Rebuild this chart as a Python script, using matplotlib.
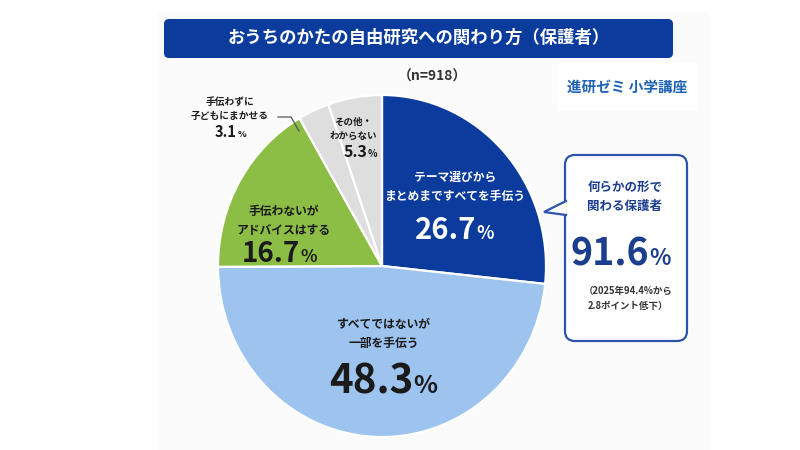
import matplotlib
matplotlib.use("Agg")
import matplotlib.pyplot as plt
from matplotlib.patches import FancyBboxPatch, Rectangle, Polygon

plt.rcParams['font.family'] = ['Noto Sans CJK JP', 'DejaVu Sans']

# ---- data ----
title = "おうちのかたの自由研究への関わり方（保護者）"
n_label = "（n=918）"
logo = "進研ゼミ 小学講座"
categories = ["テーマ選びから\nまとめまですべてを手伝う",
              "すべてではないが\n一部を手伝う",
              "手伝わないが\nアドバイスはする",
              "手伝わずに\n子どもにまかせる",
              "その他・\nわからない"]
values = [26.7, 48.3, 16.7, 3.1, 5.3]
colors = ["#0b3c9d", "#9dc3ef", "#8cbd45", "#dedede", "#dedede"]
total_label = "何らかの形で\n関わる保護者"
total_value = 91.6
total_note = "（2025年94.4%から\n2.8ポイント低下）"

fig = plt.figure(figsize=(8, 4.5), dpi=100)
fig.patch.set_facecolor("white")

# background layer in pixel coords
bg = fig.add_axes([0, 0, 1, 1], zorder=0)
bg.set_xlim(0, 800); bg.set_ylim(450, 0); bg.axis("off")
bg.add_patch(Rectangle((157, 12), 553, 440, facecolor="#fbfbfb", edgecolor="none"))
bg.add_patch(Rectangle((557, 63), 140, 48, facecolor="white", edgecolor="none"))
bg.add_patch(FancyBboxPatch((164, 19), 509, 39, boxstyle="round,pad=0,rounding_size=5",
                            facecolor="#0b3c9d", edgecolor="none"))
# callout box
bg.add_patch(FancyBboxPatch((565, 155), 122, 186, boxstyle="round,pad=0,rounding_size=10",
                            facecolor="white", edgecolor="#2b54ae", linewidth=1.6))
bg.add_patch(Polygon([(566, 201), (544, 212), (566, 215)], closed=True,
                     facecolor="white", edgecolor="none", zorder=3))
bg.plot([566, 544, 566], [201, 212, 215], color="#2b54ae", lw=1.6, zorder=4,
        solid_joinstyle="miter")

# pie
pax = fig.add_axes([218 / 800, 1 - 437 / 450, 328 / 800, 342 / 450], zorder=1)
pax.pie(values, colors=colors, startangle=90, counterclock=False,
        wedgeprops=dict(edgecolor="white", linewidth=1.6))
pax.set_aspect("auto")
pax.set_xlim(-1, 1); pax.set_ylim(-1, 1)

# text layer
tx = fig.add_axes([0, 0, 1, 1], zorder=2)
tx.set_xlim(0, 800); tx.set_ylim(450, 0); tx.axis("off")
tx.patch.set_alpha(0)

tx.text(419, 38, title, color="white", fontsize=12.5, fontweight="bold",
        ha="center", va="center")
tx.text(432, 77, n_label, color="#333333", fontsize=10, fontweight="bold",
        ha="center", va="center")
tx.text(627, 87, logo, color="#1f63b5", fontsize=10.5, fontweight="bold",
        ha="center", va="center")


def pct(x, y, v, size, color, psize):
    tx.text(x, y, f"{v:.1f}", fontsize=size, fontweight="bold", color=color,
            ha="right", va="baseline")
    tx.text(x + 0.5, y, "%", fontsize=psize, fontweight="bold", color=color,
            ha="left", va="baseline")


# label positions (pixels): label center, number split x, baseline y
lab_pos = [(455, 187), (384, 334), (284, 221), (230, 109), (353, 129)]
num_pos = [(476, 239), (413, 393), (300, 262), (237, 137), (367, 157)]
lab_size = [8.5, 8.5, 8.5, 7, 6.8]
num_size = [21, 29, 20, 10.5, 11.5]
txt_color = ["white", "#1a1a1a", "#1a1a1a", "#1a1a1a", "#1a1a1a"]

for i in range(len(values)):
    tx.text(lab_pos[i][0], lab_pos[i][1], categories[i], fontsize=lab_size[i],
            fontweight="bold", color=txt_color[i], ha="center", va="center",
            multialignment="center", linespacing=1.55)
    pct(num_pos[i][0], num_pos[i][1], values[i], num_size[i], txt_color[i],
        num_size[i] * 0.62)

# leader for small slice
tx.plot([278, 291, 299], [117, 117, 131], color="#555555", lw=0.9)

# callout text
tx.text(625, 197, total_label, fontsize=9, fontweight="bold", color="#1c3e8f",
        ha="center", va="center", multialignment="center", linespacing=1.55)
pct(649, 265, total_value, 27, "#1c3e8f", 16)
tx.text(628, 298, total_note, fontsize=6.8, fontweight="bold", color="#333333",
        ha="center", va="center", multialignment="center", linespacing=1.6)

fig.savefig("out.png", dpi=100)
